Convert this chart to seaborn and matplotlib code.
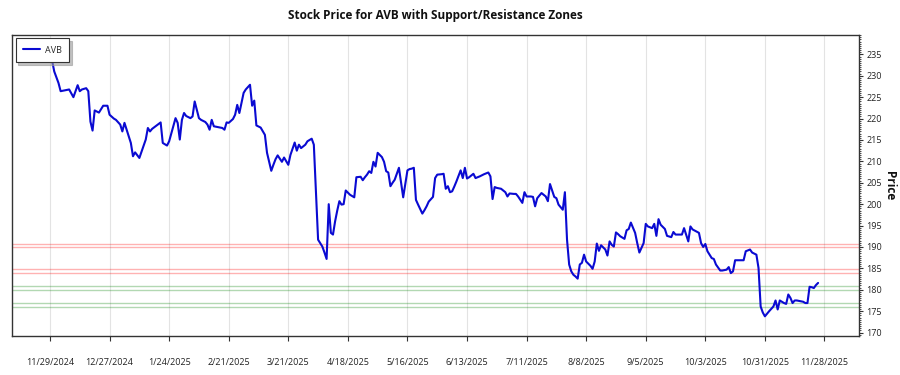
import matplotlib
matplotlib.use("Agg")
import matplotlib.pyplot as plt
from matplotlib.ticker import MultipleLocator
import seaborn as sns
import pandas as pd

ticker = "AVB"

dates = [
    "2024-11-29", "2024-12-01", "2024-12-03", "2024-12-04", "2024-12-07", "2024-12-08", "2024-12-10",
    "2024-12-12", "2024-12-13", "2024-12-14", "2024-12-16", "2024-12-17", "2024-12-18", "2024-12-19",
    "2024-12-20", "2024-12-22", "2024-12-24", "2024-12-26", "2024-12-27", "2024-12-29", "2024-12-30",
    "2025-01-01", "2025-01-02", "2025-01-03", "2025-01-06", "2025-01-07", "2025-01-08", "2025-01-10",
    "2025-01-13", "2025-01-14", "2025-01-15", "2025-01-16", "2025-01-20", "2025-01-21", "2025-01-23",
    "2025-01-24", "2025-01-27", "2025-01-28", "2025-01-29",
    "2025-01-30", "2025-01-31", "2025-02-01", "2025-02-03", "2025-02-04", "2025-02-05", "2025-02-07",
    "2025-02-08", "2025-02-10", "2025-02-11", "2025-02-12", "2025-02-13", "2025-02-14", "2025-02-16",
    "2025-02-18", "2025-02-19", "2025-02-20", "2025-02-21", "2025-02-23", "2025-02-24", "2025-02-25",
    "2025-02-26", "2025-02-28", "2025-03-01", "2025-03-03", "2025-03-04", "2025-03-05", "2025-03-06",
    "2025-03-08", "2025-03-10", "2025-03-11", "2025-03-13", "2025-03-14", "2025-03-15", "2025-03-16",
    "2025-03-18", "2025-03-19", "2025-03-21", "2025-03-22", "2025-03-24", "2025-03-25", "2025-03-26",
    "2025-03-27", "2025-03-29", "2025-03-30", "2025-04-01", "2025-04-02", "2025-04-04", "2025-04-06",
    "2025-04-07", "2025-04-08", "2025-04-09", "2025-04-10", "2025-04-11", "2025-04-12", "2025-04-13",
    "2025-04-14", "2025-04-15", "2025-04-16", "2025-04-17", "2025-04-18", "2025-04-19", "2025-04-21",
    "2025-04-22", "2025-04-24", "2025-04-25", "2025-04-26", "2025-04-27", "2025-04-28", "2025-04-29",
    "2025-04-30", "2025-05-01", "2025-05-02", "2025-05-03", "2025-05-04", "2025-05-05", "2025-05-06",
    "2025-05-07", "2025-05-08", "2025-05-09", "2025-05-10", "2025-05-11", "2025-05-12", "2025-05-14",
    "2025-05-15", "2025-05-16", "2025-05-17", "2025-05-18", "2025-05-19", "2025-05-20", "2025-05-21",
    "2025-05-23", "2025-05-24", "2025-05-25", "2025-05-26", "2025-05-28", "2025-05-29", "2025-05-30",
    "2025-06-01", "2025-06-02", "2025-06-03", "2025-06-04", "2025-06-05", "2025-06-06", "2025-06-07",
    "2025-06-08", "2025-06-09", "2025-06-10", "2025-06-11", "2025-06-12", "2025-06-13", "2025-06-14",
    "2025-06-15", "2025-06-16", "2025-06-17", "2025-06-19", "2025-06-21", "2025-06-23", "2025-06-24",
    "2025-06-25", "2025-06-26", "2025-06-27", "2025-06-29", "2025-06-30", "2025-07-01", "2025-07-02",
    "2025-07-03", "2025-07-05", "2025-07-06", "2025-07-07", "2025-07-09", "2025-07-10", "2025-07-11",
    "2025-07-13", "2025-07-14", "2025-07-15", "2025-07-16", "2025-07-17", "2025-07-18", "2025-07-19",
    "2025-07-20", "2025-07-21", "2025-07-22", "2025-07-23", "2025-07-24", "2025-07-25", "2025-07-26",
    "2025-07-28", "2025-07-29", "2025-07-30", "2025-07-31", "2025-08-01", "2025-08-02", "2025-08-03",
    "2025-08-04", "2025-08-05", "2025-08-06", "2025-08-07", "2025-08-08", "2025-08-09", "2025-08-10",
    "2025-08-11", "2025-08-12", "2025-08-13", "2025-08-14", "2025-08-15", "2025-08-16", "2025-08-17",
    "2025-08-18", "2025-08-19", "2025-08-20", "2025-08-21", "2025-08-22", "2025-08-23", "2025-08-24",
    "2025-08-25", "2025-08-26", "2025-08-27", "2025-08-28", "2025-08-29", "2025-08-30", "2025-08-31",
    "2025-09-01", "2025-09-02", "2025-09-03", "2025-09-04", "2025-09-05", "2025-09-06", "2025-09-08",
    "2025-09-09", "2025-09-10", "2025-09-11", "2025-09-12", "2025-09-14", "2025-09-15", "2025-09-17",
    "2025-09-18", "2025-09-19", "2025-09-21", "2025-09-22", "2025-09-23", "2025-09-25", "2025-09-26",
    "2025-09-27", "2025-09-30", "2025-10-01", "2025-10-02", "2025-10-03", "2025-10-04", "2025-10-06",
    "2025-10-07", "2025-10-08", "2025-10-10", "2025-10-11", "2025-10-13", "2025-10-14", "2025-10-15",
    "2025-10-16", "2025-10-17", "2025-10-19", "2025-10-21", "2025-10-22", "2025-10-23", "2025-10-24",
    "2025-10-25", "2025-10-27", "2025-10-28", "2025-10-29", "2025-10-30", "2025-10-31", "2025-11-01",
    "2025-11-02", "2025-11-04", "2025-11-05", "2025-11-06", "2025-11-07", "2025-11-08", "2025-11-09",
    "2025-11-10", "2025-11-11", "2025-11-12", "2025-11-13", "2025-11-14", "2025-11-15", "2025-11-16",
    "2025-11-18", "2025-11-19", "2025-11-20", "2025-11-21", "2025-11-22", "2025-11-23", "2025-11-24",
    "2025-11-25",
]

prices = [
    236.0, 231.0, 228.3, 226.4, 226.7, 226.8, 225.0,
    227.8, 226.4, 226.8, 227.1, 226.4, 219.3, 217.2,
    221.9, 221.4, 223.0, 223.0, 220.9, 220.0, 219.7,
    218.6, 217.0, 219.0, 214.3, 211.2, 212.1, 210.8,
    215.1, 217.8, 217.0, 217.6, 219.1, 214.3, 213.7,
    214.7, 220.1, 219.0, 215.1,
    219.7, 221.3, 220.6, 220.1, 220.5, 224.0, 220.1,
    219.7, 219.2, 218.6, 217.4, 219.7, 218.2, 218.0,
    217.8, 217.4, 219.1, 219.0, 219.9, 220.9, 223.2,
    221.3, 226.0, 226.8, 227.9, 223.0, 224.2, 218.4,
    217.9, 216.2, 212.0, 207.8, 209.2, 210.5, 211.4,
    209.9, 210.9, 209.2, 211.5, 214.4, 212.5, 213.9,
    213.1, 213.9, 214.7, 215.3, 213.9, 191.7, 190.1,
    188.7, 187.2, 200.0, 193.3, 192.9, 196.0, 198.5,
    200.7, 199.9, 200.0, 203.2, 202.7, 202.2, 201.6,
    206.3, 206.4, 205.6, 206.3, 206.9, 207.7, 207.3,
    209.9, 208.8, 212.0, 211.5, 211.0, 209.9, 207.7,
    207.4, 204.2, 205.0, 205.7, 207.1, 208.5, 201.6,
    204.8, 207.9, 208.2, 208.3, 208.5, 201.0, 199.9,
    197.8, 198.6, 199.5, 200.6, 201.7, 206.1, 206.9,
    207.0, 207.1, 203.6, 204.2, 202.8, 203.0, 204.1,
    205.3, 206.6, 207.9, 206.1, 208.5, 206.0, 206.3,
    206.7, 207.1, 206.1, 206.5, 207.0, 207.4, 206.5,
    201.2, 204.0, 203.8, 203.6, 203.2, 202.8, 201.8,
    202.5, 202.4, 202.4, 201.8, 200.3, 202.8, 201.8,
    201.8, 201.7, 199.5, 201.4, 202.0, 202.6, 202.2,
    201.8, 200.7, 204.7, 203.2, 201.7, 201.4, 199.9,
    198.7, 202.8, 191.7, 185.9, 184.3, 183.5, 183.1,
    182.6, 185.9, 186.3, 188.2, 186.6, 186.1, 185.6,
    184.9, 186.6, 190.8, 189.1, 190.4, 189.9, 189.4,
    188.0, 191.3, 190.5, 190.1, 193.4, 193.0, 192.5,
    192.2, 191.9, 193.9, 194.2, 195.7, 194.5, 193.3,
    190.9, 188.7, 189.8, 190.9, 195.4, 194.8, 194.4,
    195.4, 192.6, 196.5, 195.2, 194.2, 192.6, 192.3,
    193.5, 192.9, 192.9, 192.9, 194.4, 191.3, 194.8,
    194.1, 193.3, 190.9, 190.0, 190.7, 189.0, 187.4,
    187.2, 185.9, 184.5, 184.5, 184.7, 185.3, 183.9,
    184.3, 186.9, 186.9, 186.9, 189.0, 189.2, 189.4,
    188.7, 188.2, 185.1, 176.1, 174.7, 173.8, 174.4,
    175.0, 176.1, 177.5, 175.4, 177.5, 177.2, 176.9,
    176.7, 178.9, 178.1, 176.9, 177.5, 177.5, 177.4,
    177.2, 176.9, 176.9, 180.7, 180.6, 180.4, 181.1,
    181.6,
]

resistance_zones = [(190.0, 190.8), (184.0, 184.8)]
support_zones = [(180.0, 180.85), (175.9, 176.9)]

tick_dates = ["2024-11-29", "2024-12-27", "2025-01-24", "2025-02-21", "2025-03-21", "2025-04-18",
              "2025-05-16", "2025-06-13", "2025-07-11", "2025-08-08", "2025-09-05", "2025-10-03",
              "2025-10-31", "2025-11-28"]
tick_labels = ["11/29/2024", "12/27/2024", "1/24/2025", "2/21/2025", "3/21/2025", "4/18/2025",
               "5/16/2025", "6/13/2025", "7/11/2025", "8/8/2025", "9/5/2025", "10/3/2025",
               "10/31/2025", "11/28/2025"]
y_ticks = [170, 175, 180, 185, 190, 195, 200, 205, 210, 215, 220, 225, 230, 235]

df = pd.DataFrame({"Date": pd.to_datetime(dates), "Price": prices})

sns.set_theme(style="white")
plt.rcParams["font.family"] = ["Open Sans", "DejaVu Sans"]

fig = plt.figure(figsize=(9, 3.75), dpi=100)
ax = fig.add_axes([0.0133, 0.104, 0.9411, 0.8035])

for lo, hi in resistance_zones:
    ax.axhline(lo, color="red", alpha=0.3, linewidth=1.0, zorder=1)
    ax.axhline(hi, color="red", alpha=0.3, linewidth=1.0, zorder=1)
for lo, hi in support_zones:
    ax.axhline(lo, color="green", alpha=0.3, linewidth=1.0, zorder=1)
    ax.axhline(hi, color="green", alpha=0.3, linewidth=1.0, zorder=1)

sns.lineplot(data=df, x="Date", y="Price", ax=ax, color="#0a0ad2", linewidth=1.5,
             label=ticker, zorder=3)

ax.set_xlim(pd.Timestamp("2024-11-11 03:00"), pd.Timestamp("2025-12-14 05:00"))
ax.set_ylim(169.2, 239.6)

ax.set_xticks(pd.to_datetime(tick_dates))
ax.set_xticklabels(tick_labels)
ax.set_yticks(y_ticks)
ax.yaxis.set_minor_locator(MultipleLocator(0.5))
ax.yaxis.tick_right()
ax.yaxis.set_label_position("right")

ax.tick_params(axis="x", which="major", direction="out", length=3.5, width=0.8,
               color="#333333", pad=12, labelsize=6.5, labelcolor="#222222", bottom=True)
ax.tick_params(axis="y", which="major", direction="out", length=3, width=0.8,
               color="#333333", pad=2.5, labelsize=6.5, labelcolor="#222222", right=True, left=False)
ax.tick_params(axis="y", which="minor", direction="out", length=1.5, width=0.6,
               color="#333333", right=True, left=False)

ax.grid(axis="x", color="#e3e3e3", linewidth=0.8)
ax.grid(axis="y", visible=False)

for s in ax.spines.values():
    s.set_visible(True)
    s.set_color("#333333")
    s.set_linewidth(1.0)

ax.set_xlabel("")
ax.set_ylabel("Price", rotation=270, fontsize=8.5, fontweight="bold", labelpad=10, color="#111111")
ax.set_title("Stock Price for AVB with Support/Resistance Zones", fontsize=8.5,
             fontweight="bold", pad=11, color="#111111")

leg = ax.legend(loc="upper left", fontsize=6.5, frameon=True, fancybox=False,
                shadow={"color": "#9a9a9a", "alpha": 0.6},
                borderpad=0.8, handlelength=1.9, handletextpad=0.6, borderaxespad=0.4)
leg.get_frame().set_edgecolor("#333333")
leg.get_frame().set_linewidth(0.8)

fig.savefig("out.png", dpi=100, facecolor="white")
